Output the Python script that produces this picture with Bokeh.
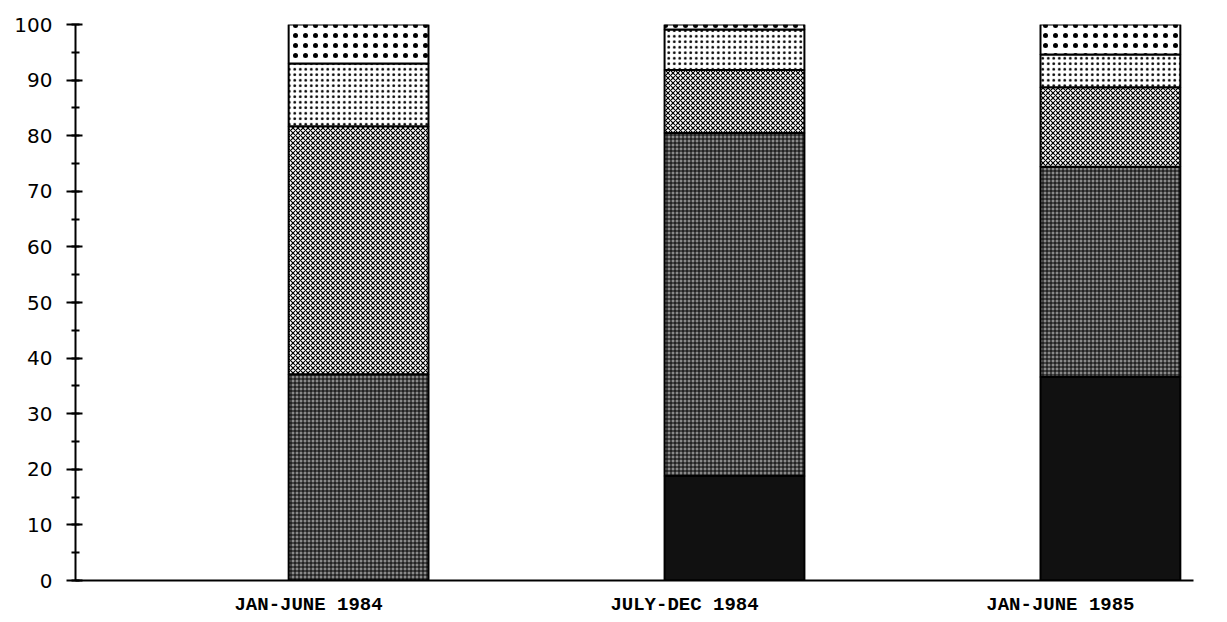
from bokeh.plotting import figure
from bokeh.models import Range1d, FixedTicker, SingleIntervalTicker, ColumnDataSource
from bokeh.embed import file_html
from bokeh.resources import INLINE

categories = ["JAN-JUNE 1984", "JULY-DEC 1984", "JAN-JUNE 1985"]
seg_black = [0.0, 18.8, 36.6]
seg_grid = [37.1, 61.7, 37.8]
seg_check = [44.6, 11.3, 14.3]
seg_dense = [11.3, 7.3, 5.9]
seg_sparse = [7.0, 0.9, 5.4]

tick_pos = [1, 2, 3]
bar_shift = 0.133
src = ColumnDataSource(dict(
    x=[t + bar_shift for t in tick_pos],
    black=seg_black, grid=seg_grid, check=seg_check, dense=seg_dense, sparse=seg_sparse,
))

p = figure(frame_width=1118, frame_height=556, output_backend="svg", toolbar_location=None,
           x_range=Range1d(0.380, 3.354), y_range=Range1d(0, 100),
           min_border_left=75, min_border_top=24, min_border_right=30, min_border_bottom=28)
p.outline_line_color = None
p.grid.visible = False
p.background_fill_color = "white"

p.vbar_stack(["black", "grid", "check", "dense", "sparse"], x="x", width=0.372, source=src,
             fill_color=["#111111", "#8a8a8a", "white", "white", "white"],
             hatch_pattern=[" ", "+", "x", ".", "."],
             hatch_color="black",
             hatch_scale=[4, 4, 5, 5.5, 10],
             hatch_weight=[1, 1, 1.2, 1.3, 0.2],
             line_color="black", line_width=2)

ya = p.yaxis[0]
ya.ticker = SingleIntervalTicker(interval=10, num_minor_ticks=2)
ya.axis_line_width = 2
ya.major_tick_line_width = 2
ya.major_tick_out = 9
ya.major_tick_in = 7
ya.minor_tick_line_width = 2
ya.minor_tick_out = 4
ya.minor_tick_in = 4
ya.major_label_text_font = "DejaVu Sans"
ya.major_label_text_font_size = "20px"
ya.major_label_text_color = "black"
ya.major_label_standoff = 14

xa = p.xaxis[0]
xa.ticker = FixedTicker(ticks=tick_pos)
xa.major_label_overrides = {t: c for t, c in zip(tick_pos, categories)}
xa.axis_line_width = 2
xa.major_tick_line_color = None
xa.minor_tick_line_color = None
xa.major_label_text_font = "Liberation Mono"
xa.major_label_text_font_size = "19px"
xa.major_label_text_font_style = "bold"
xa.major_label_text_color = "black"
xa.major_label_standoff = 7

open("out.html", "w").write(file_html(p, INLINE))
